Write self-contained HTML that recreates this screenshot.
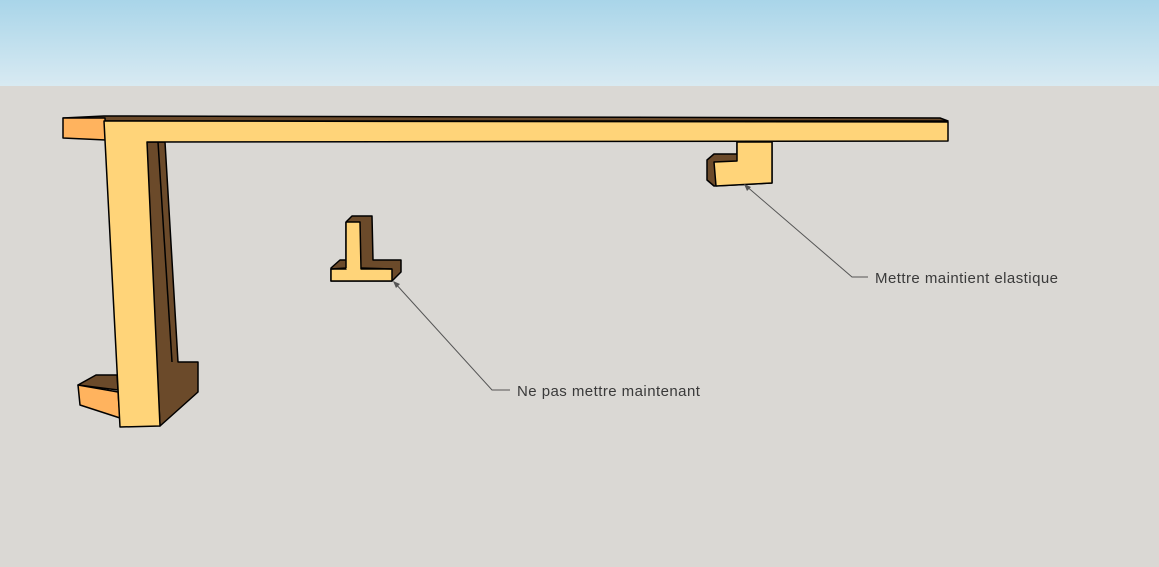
<!DOCTYPE html>
<html><head><meta charset="utf-8"><style>
html,body{margin:0;padding:0;width:1159px;height:567px;overflow:hidden;background:#dad8d4}
svg{display:block}
text{font-family:"Liberation Sans",sans-serif;font-size:15px;letter-spacing:0.45px;fill:#3a3a3a}
</style></head><body>
<svg width="1159" height="567" viewBox="0 0 1159 567">
<defs><linearGradient id="sky" x1="0" y1="0" x2="0" y2="1">
<stop offset="0" stop-color="#a9d5e9"/><stop offset="1" stop-color="#d8eaf2"/></linearGradient></defs>
<rect x="0" y="0" width="1159" height="86" fill="url(#sky)"/>
<rect x="0" y="86" width="1159" height="481" fill="#dad8d4"/>
<g stroke="#000" stroke-width="1.5" stroke-linejoin="round">
<polygon points="63,118 104,116 940,118 948,121 104,121" fill="#6b4a2a"/>
<polygon points="63,118 105,118 106,140 63,138" fill="#ffb35e"/>
<polygon points="146,142 165,142 178,362 198,362 198,392 160,426" fill="#6b4a2a"/>
<polyline points="158,142 172,362" fill="none"/>
<polygon points="78,385 96,375 117,375 118,390" fill="#6b4a2a"/>
<polygon points="78,385 118,392 120,418 80,405" fill="#ffb35e"/>
<polygon points="104,121 948,122 948,141 147,142 160,426 120,427" fill="#ffd479"/>
<polygon points="707,160 714,154 737,154 737,142 772,142 772,183 714,186 707,180" fill="#6b4a2a"/>
<polygon points="714,162 737,161 737,142 772,142 772,183 716,186" fill="#ffd479"/>
<polygon points="346,222 352,216 372,216 373,260 401,260 401,272 392,281 331,281 331,268 340,260 346,260" fill="#6b4a2a"/>
<polygon points="331,269 346,269 346,268 360,268 392,269 392,281 331,281" fill="#ffd479"/>
<polygon points="346,222 360,222 361,269 346,269" fill="#ffd479" stroke="none"/>
<polyline points="346,222 346,268 331,269" fill="none"/>
<polyline points="346,222 360,222 361,269 392,269" fill="none"/>
</g>
<g stroke="#555" stroke-width="1" fill="none">
<polyline points="394,282 492,390 510,390"/>
<polyline points="745,185 852,277 868,277"/>
</g>
<polygon points="393,281 400,284 396,288" fill="#555"/>
<polygon points="744,184 751,187 747,191" fill="#555"/>
<text x="517" y="396">Ne pas mettre maintenant</text>
<text x="875" y="283">Mettre maintient elastique</text>
</svg>
</body></html>
